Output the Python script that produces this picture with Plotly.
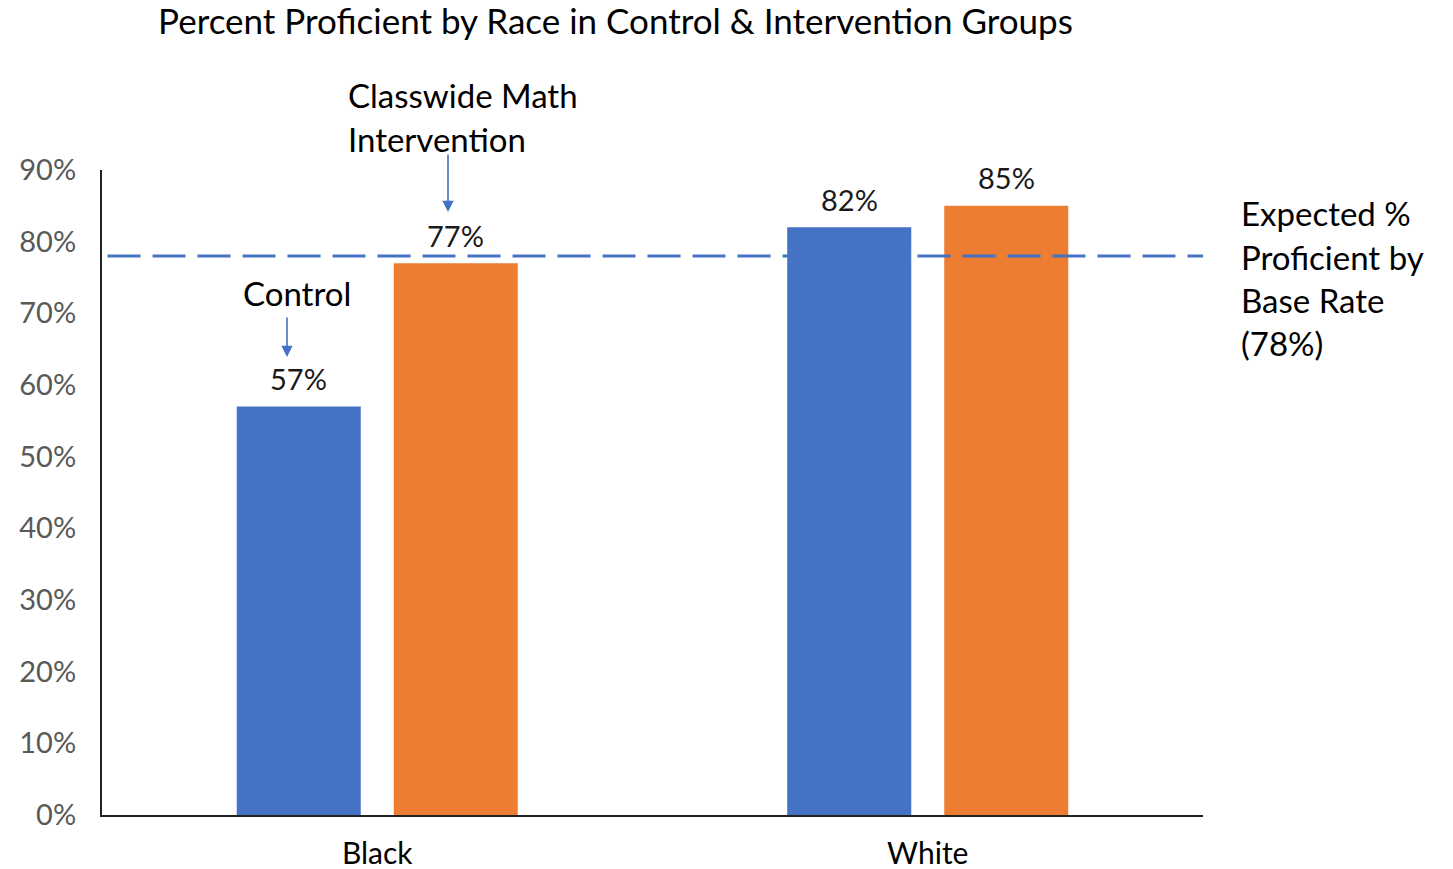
import plotly.graph_objects as go

# Chart data
categories = ["Black", "White"]
control_values = [0.57, 0.82]
intervention_values = [0.77, 0.85]
base_rate = 0.78
y_ticks = [0, 0.1, 0.2, 0.3, 0.4, 0.5, 0.6, 0.7, 0.8, 0.9]

BLUE = "#4472C4"
ORANGE = "#ED7D31"
FONT = "Lato"

fig = go.Figure()
fig.add_trace(go.Bar(name="Control", x=categories, y=control_values,
                     marker=dict(color=BLUE, line=dict(width=0))))
fig.add_trace(go.Bar(name="Classwide Math Intervention", x=categories,
                     y=intervention_values,
                     marker=dict(color=ORANGE, line=dict(width=0))))

# Value labels above each bar (grouped offsets in pixels)
for vals, shift in ((control_values, -78.5), (intervention_values, 78.5)):
    for cat, v in zip(categories, vals):
        fig.add_annotation(x=cat, y=v, xref="x", yref="y", xshift=shift,
                           yshift=28, text=f"{round(v * 100)}%",
                           showarrow=False, yanchor="middle",
                           font=dict(family=FONT, size=29, color="#1a1a1a"))

# Expected base-rate reference line
fig.add_shape(type="line", xref="paper", yref="y", x0=0.005, x1=1.0,
              y0=base_rate, y1=base_rate,
              line=dict(color=BLUE, width=3, dash="33px,12px"))

def px_x(px):
    return (px - 102) / 1101

def px_y(py):
    return (815 - py) / 645

# Callout labels
text_font = dict(family=FONT, size=33, color="#000000")
fig.add_annotation(x=px_x(297), y=px_y(293), xref="paper", yref="paper",
                   text="Control", showarrow=False, xanchor="center",
                   yanchor="middle", font=text_font)
for line, py in (("Classwide Math", 95), ("Intervention", 139)):
    fig.add_annotation(x=px_x(346), y=px_y(py), xref="paper", yref="paper",
                       text=line, showarrow=False, xanchor="left",
                       yanchor="middle", font=text_font)
for line, py in (("Expected %", 213), ("Proficient by", 257),
                 ("Base Rate", 300), ("(78%)", 343)):
    fig.add_annotation(x=px_x(1239), y=px_y(py), xref="paper", yref="paper",
                       text=line, showarrow=False, xanchor="left",
                       yanchor="middle", font=text_font)

# Pointer arrows
for hx, hy, ty in ((287, 357, 316), (448, 212, 153)):
    fig.add_annotation(x=px_x(hx), y=px_y(hy), xref="paper", yref="paper",
                       ax=0, ay=ty - hy, axref="pixel", ayref="pixel",
                       text="", showarrow=True, arrowhead=2, arrowsize=1.4,
                       arrowwidth=1.6, arrowcolor=BLUE)

fig.update_layout(
    width=1453, height=869,
    margin=dict(l=102, r=250, t=170, b=54, autoexpand=False),
    paper_bgcolor="white", plot_bgcolor="white",
    barmode="group", bargap=0.4296, bargroupgap=0.21,
    showlegend=False,
    title=dict(text="Percent Proficient by Race in Control & Intervention Groups",
               x=615.5 / 1453, xanchor="center", xref="container",
               y=1 - 22 / 869, yanchor="middle", yref="container",
               font=dict(family=FONT, size=35, color="#000000")),
    font=dict(family=FONT),
)
fig.update_yaxes(range=[0, 0.9], tickvals=y_ticks, tickformat=".0%",
                 showgrid=False, zeroline=False, showline=True,
                 linecolor="#222222", linewidth=2, ticks="",
                 ticklabelstandoff=18, automargin=False,
                 tickfont=dict(family=FONT, size=29, color="#595959"))
fig.update_xaxes(showgrid=False, showline=True, linecolor="#222222",
                 linewidth=2, ticks="", ticklabelstandoff=11,
                 automargin=False,
                 tickfont=dict(family=FONT, size=30, color="#000000"))

fig.write_html("out.html")
